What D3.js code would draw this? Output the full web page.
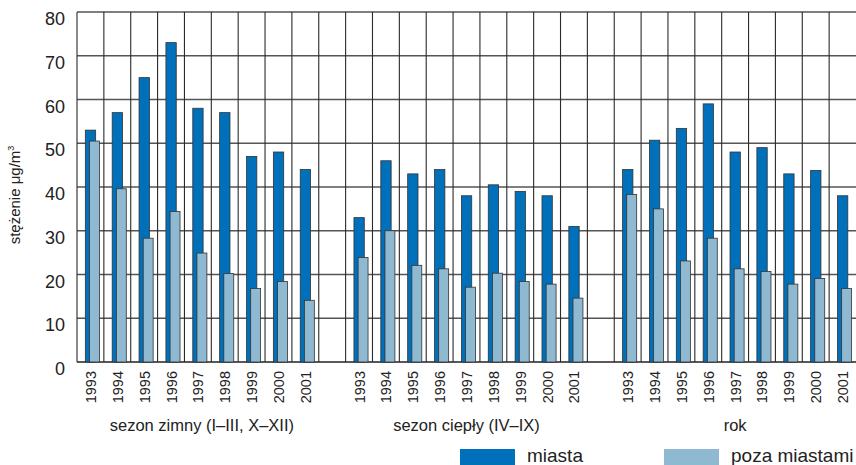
<!DOCTYPE html>
<html><head><meta charset="utf-8">
<script src="https://cdn.jsdelivr.net/npm/d3@7"></script>
<style>body{margin:0;background:#fff;}svg{display:block;font-family:"Liberation Sans",Arial,sans-serif;}</style>
</head><body>
<svg id="c" width="856" height="465"></svg>
<script>
const years = ["1993","1994","1995","1996","1997","1998","1999","2000","2001"];
const groups = ["sezon zimny (I–III, X–XII)", "sezon ciepły (IV–IX)", "rok"];
const miastaZimny = [53, 57, 65, 73, 58, 57, 47, 48, 44];
const pozaZimny   = [50.5, 39.6, 28.3, 34.4, 24.9, 20.2, 16.8, 18.4, 14.1];
const miastaCieply = [33, 46, 43, 44, 38, 40.5, 39, 38, 31];
const pozaCieply   = [23.9, 30, 22.1, 21.3, 17.1, 20.3, 18.4, 17.8, 14.6];
const miastaRok = [44, 50.7, 53.4, 59, 48, 49, 43, 43.8, 38];
const pozaRok   = [38.3, 35, 23.1, 28.3, 21.3, 20.7, 17.8, 19.1, 16.8];
const yTicks = [0, 10, 20, 30, 40, 50, 60, 70, 80];
const seriesNames = ["miasta", "poza miastami"];
const colors = ["#0070ba", "#8fb8d1"];

const miasta = [miastaZimny, miastaCieply, miastaRok];
const poza = [pozaZimny, pozaCieply, pozaRok];

// slots: 9 years + gap + 9 + gap + 9
const slots = [];
groups.forEach((g, gi) => {
  years.forEach((y, yi) => slots.push({key: gi + "-" + y, year: y, g: gi, m: miasta[gi][yi], p: poza[gi][yi]}));
  if (gi < groups.length - 1) slots.push({key: "gap" + gi, gap: true});
});

const svg = d3.select("#c");
const L = 77, R = 856, T = 12, B = 362;
const x = d3.scaleBand().domain(slots.map(d => d.key)).range([L, R]).padding(0);
const y = d3.scaleLinear().domain([0, 80]).range([B, T]);
const bw = x.bandwidth();

// horizontal grid
svg.append("g").selectAll("line").data(yTicks).join("line")
  .attr("x1", L).attr("x2", R).attr("y1", d => y(d)).attr("y2", d => y(d))
  .attr("stroke", d => d === 0 ? "#222" : "#555").attr("stroke-width", 1.3);
// vertical grid
svg.append("g").selectAll("line").data(slots).join("line")
  .attr("x1", d => x(d.key)).attr("x2", d => x(d.key)).attr("y1", T).attr("y2", B)
  .attr("stroke", "#2a2a2a").attr("stroke-width", 1.1);

const data = slots.filter(d => !d.gap);
svg.append("g").selectAll("rect").data(data).join("rect")
  .attr("x", d => x(d.key) + bw * 0.31).attr("width", bw * 0.385)
  .attr("y", d => y(d.m)).attr("height", d => y(0) - y(d.m))
  .attr("fill", colors[0]).attr("stroke", "#333").attr("stroke-width", 0.8);
svg.append("g").selectAll("rect").data(data).join("rect")
  .attr("x", d => x(d.key) + bw * 0.465).attr("width", bw * 0.37)
  .attr("y", d => y(d.p)).attr("height", d => y(0) - y(d.p))
  .attr("fill", colors[1]).attr("stroke", "#333").attr("stroke-width", 0.8);

// y axis
const yAxis = d3.axisLeft(y).tickValues(yTicks).tickSize(0).tickPadding(12);
const ya = svg.append("g").attr("transform", `translate(${L},0)`).call(yAxis);
ya.select(".domain").remove();
ya.selectAll("text").attr("font-size", 18).attr("fill", "#222").attr("dy", "0.7em")
  .attr("font-family", "Liberation Sans, Arial, sans-serif");

// x axis years
const xAxis = d3.axisBottom(x).tickValues(data.map(d => d.key)).tickFormat(k => slots.find(s => s.key === k).year).tickSize(0);
const xa = svg.append("g").attr("transform", `translate(0,${B})`).call(xAxis);
xa.select(".domain").remove();
xa.selectAll("text").attr("font-size", 14.5).attr("fill", "#222")
  .attr("font-family", "Liberation Sans, Arial, sans-serif")
  .attr("transform", "rotate(-90)").attr("text-anchor", "end")
  .attr("x", -9).attr("y", 0).attr("dy", "0.38em");

// group labels
groups.forEach((g, gi) => {
  const first = x(gi + "-" + years[0]);
  const last = x(gi + "-" + years[years.length - 1]) + bw;
  svg.append("text").attr("x", (first + last) / 2 + (gi === 0 ? 4 : 0)).attr("y", 431)
    .attr("text-anchor", "middle").attr("font-size", 16.5).attr("fill", "#222").text(g);
});

// y title
svg.append("text").attr("transform", "translate(20,195) rotate(-90)").attr("text-anchor", "middle")
  .attr("font-size", 15).attr("fill", "#222")
  .html('stężenie μg/m<tspan dy="-6" font-size="9">3</tspan>');

// legend
const lg = [{x: 460, tx: 527}, {x: 664, tx: 731}];
seriesNames.forEach((n, i) => {
  svg.append("rect").attr("x", lg[i].x).attr("y", 449).attr("width", 55).attr("height", 16).attr("fill", colors[i]);
  svg.append("text").attr("x", lg[i].tx).attr("y", 462).attr("font-size", 19).attr("fill", "#222").text(n);
});
</script>
</body></html>
